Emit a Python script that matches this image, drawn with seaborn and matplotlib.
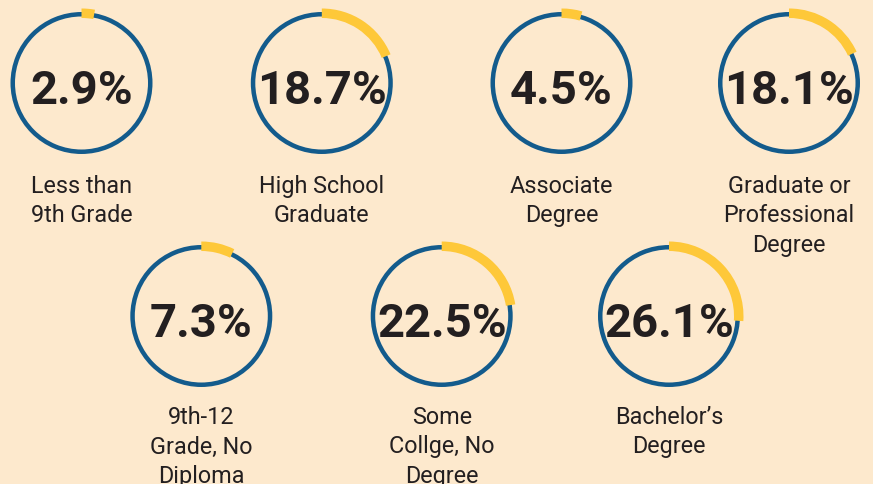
import matplotlib
matplotlib.use("Agg")
import matplotlib.pyplot as plt
import seaborn as sns

# Data
labels = ["Less than\n9th Grade", "High School\nGraduate", "Associate\nDegree",
          "Graduate or\nProfessional\nDegree", "9th-12\nGrade, No\nDiploma",
          "Some\nCollge, No\nDegree", "Bachelor\u2019s\nDegree"]
shares = [2.9, 18.7, 4.5, 18.1, 7.3, 22.5, 26.1]

# Layout (pixel positions of each ring centre, top-down y)
W, H = 873, 484
centers_x = [81.5, 321.8, 561.5, 789, 201.3, 441.7, 669]
centers_y = [83, 83, 83, 83, 316, 316, 316]
label_top = [175, 175, 175, 175, 406, 406, 406]

bg = "#fde9cd"
blue = "#135b8c"
yellow = "#fec839"
ink = "#231f20"

sns.set_theme(style="white", rc={"figure.facecolor": bg, "axes.facecolor": bg})
plt.rcParams["font.family"] = ["Roboto", "DejaVu Sans"]

fig = plt.figure(figsize=(W / 100, H / 100), dpi=100)
ax = fig.add_axes([0, 0, 1, 1])

for lab, val, cx, cy, ty in zip(labels, shares, centers_x, centers_y, label_top):
    c = (cx, H - cy)
    # full blue ring
    ax.pie([100], radius=71, center=c, colors=[blue], frame=True,
           wedgeprops=dict(width=4.5, linewidth=0))
    # yellow share arc, clockwise from the top
    ax.pie([val, 100 - val], radius=74.5, center=c, colors=[yellow, "none"],
           startangle=90, counterclock=False, frame=True,
           wedgeprops=dict(width=9.5, linewidth=0))
    ax.text(cx, H - cy - 21, f"{val}%", ha="center", va="baseline",
            fontsize=34, fontweight="bold", color=ink)
    ax.text(cx, H - ty, lab, ha="center", va="top", fontsize=16.8,
            color=ink, linespacing=1.36)

ax.set_xlim(0, W)
ax.set_ylim(0, H)
ax.set_aspect("equal")
ax.axis("off")

fig.savefig("out.png", dpi=100, facecolor=bg)
